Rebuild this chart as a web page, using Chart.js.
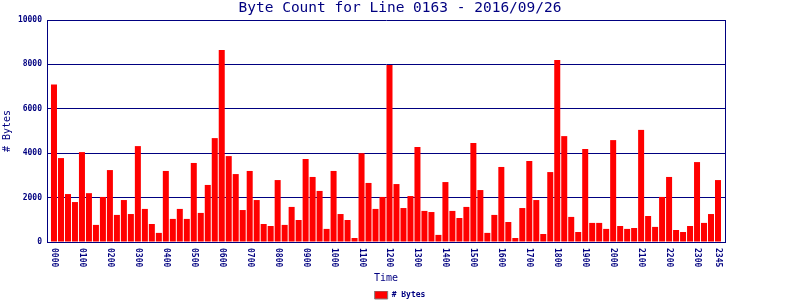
<!DOCTYPE html>
<html>
<head>
<meta charset="utf-8">
<script src="https://cdn.jsdelivr.net/npm/chart.js@4/dist/chart.umd.min.js"></script>
<style>
  body { margin: 0; background: #fff; }
</style>
</head>
<body>
<canvas id="byte_count" width="800" height="300"></canvas>
<script>
// 15 minute slots for the day
const times = [
  '0000','0015','0030','0045','0100','0115','0130','0145','0200','0215','0230','0245',
  '0300','0315','0330','0345','0400','0415','0430','0445','0500','0515','0530','0545',
  '0600','0615','0630','0645','0700','0715','0730','0745','0800','0815','0830','0845',
  '0900','0915','0930','0945','1000','1015','1030','1045','1100','1115','1130','1145',
  '1200','1215','1230','1245','1300','1315','1330','1345','1400','1415','1430','1445',
  '1500','1515','1530','1545','1600','1615','1630','1645','1700','1715','1730','1745',
  '1800','1815','1830','1845','1900','1915','1930','1945','2000','2015','2030','2045',
  '2100','2115','2130','2145','2200','2215','2230','2245','2300','2315','2330','2345'
];

// labels shown under the axis
const tickTimes = [
  '0000','0100','0200','0300','0400','0500','0600','0700','0800','0900','1000','1100',
  '1200','1300','1400','1500','1600','1700','1800','1900','2000','2100','2200','2300','2345'
];

const byteCounts = [
  7100, 3780, 2160, 1800, 4050, 2200, 770, 2030, 3240, 1220, 1890, 1260,
  4320, 1490, 810, 410, 3200, 1040, 1490, 1040, 3560, 1310, 2570, 4680,
  8650, 3870, 3060, 1440, 3200, 1890, 810, 720, 2790, 770, 1580, 990,
  3740, 2930, 2300, 590, 3200, 1260, 990, 180, 4000, 2660, 1490, 2030,
  7970, 2610, 1530, 2070, 4280, 1400, 1350, 320, 2700, 1400, 1080, 1580,
  4460, 2340, 410, 1220, 3380, 900, 180, 1530, 3650, 1890, 360, 3150,
  8200, 4770, 1130, 450, 4190, 860, 860, 590, 4590, 720, 590, 630,
  5050, 1170, 680, 2030, 2930, 540, 450, 720, 3600, 860, 1260, 2790
];

const yTicks = [0, 2000, 4000, 6000, 8000, 10000];

const navy = '#000080';
const mono = '"DejaVu Sans Mono", "Liberation Mono", monospace';
Chart.defaults.font.family = mono;

// x labels read top to bottom, so draw them ourselves
const timeLabels = {
  id: 'timeLabels',
  afterDraw: (chart) => {
    const ctx = chart.ctx;
    const xs = chart.scales.x;
    ctx.save();
    ctx.fillStyle = navy;
    ctx.font = 'bold 8px ' + mono;
    ctx.textAlign = 'left';
    ctx.textBaseline = 'middle';
    tickTimes.forEach((t) => {
      const i = times.indexOf(t);
      ctx.save();
      ctx.translate(Math.round(xs.getPixelForValue(i)) + 0.5, xs.top + 6);
      ctx.rotate(Math.PI / 2);
      ctx.fillText(t, 0, 0);
      ctx.restore();
    });
    ctx.restore();
  }
};

const ctx = document.getElementById('byte_count').getContext('2d');
const chart = new Chart(ctx, {
  type: 'bar',
  data: {
    datasets: [{
      label: '# Bytes',
      data: byteCounts.map((v, i) => ({x: i, y: v})),
      backgroundColor: '#ff0000',
      borderWidth: 0,
      barPercentage: 0.86,
      categoryPercentage: 1
    }]
  },
  options: {
    responsive: false,
    animation: false,
    layout: { padding: {left: 0, right: 0, top: 0, bottom: -9} },
    plugins: {
      title: {
        display: true,
        text: 'Byte Count for Line 0163 - 2016/09/26',
        color: navy,
        font: {size: 14.5, weight: 'normal', lineHeight: 1.2},
        padding: {top: 0, bottom: 2.6}
      },
      legend: {
        position: 'bottom',
        labels: {
          color: navy,
          font: {size: 8, weight: 'bold'},
          boxWidth: 13,
          boxHeight: 8,
          padding: 0,
          generateLabels: (chart) => {
            const items = Chart.defaults.plugins.legend.labels.generateLabels(chart);
            items.forEach((it) => { it.strokeStyle = '#808080'; it.lineWidth = 1; });
            return items;
          }
        }
      },
      tooltip: {enabled: false}
    },
    scales: {
      x: {
        type: 'linear',
        offset: false,
        min: -1,
        max: 96,
        grid: {display: false, offset: false},
        border: {display: true, color: navy, width: 1},
        ticks: {display: false},
        title: {
          display: true,
          text: 'Time',
          color: navy,
          font: {size: 10},
          padding: {top: 0, bottom: 7}
        },
        afterFit: (s) => { s.height = 49; }
      },
      y: {
        min: 0,
        max: 10000,
        afterBuildTicks: (s) => { s.ticks = yTicks.map((v) => ({value: v})); },
        ticks: {
          color: navy,
          font: {size: 8, weight: 'bold'},
          padding: 5,
          callback: (v) => String(v)
        },
        grid: {color: navy, lineWidth: 1, drawTicks: false},
        border: {display: true, color: navy, width: 1},
        title: {
          display: true,
          text: '# Bytes',
          color: navy,
          font: {size: 10},
          padding: {top: 1, bottom: 0}
        },
        afterFit: (s) => { s.width = 47; }
      },
      y2: {
        position: 'right',
        min: 0,
        max: 10000,
        grid: {display: false},
        ticks: {display: false},
        border: {display: true, color: navy, width: 1},
        afterFit: (s) => { s.width = 75; } // empty margin on the right
      }
    }
  },
  plugins: [timeLabels]
});
</script>
</body>
</html>
